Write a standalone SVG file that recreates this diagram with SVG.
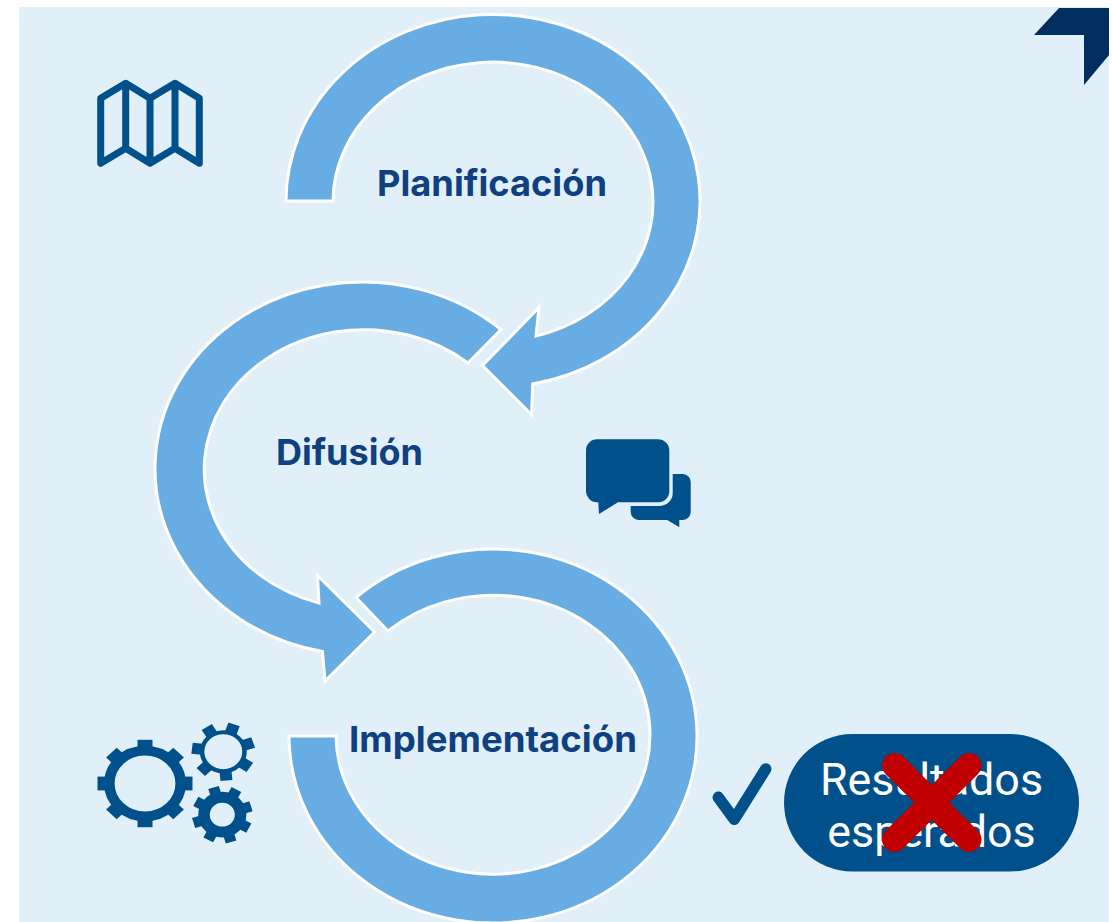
<svg xmlns="http://www.w3.org/2000/svg" width="1112" height="922" viewBox="0 0 1112 922">
<style>
.band{fill:#67ACE2;stroke:#fff;stroke-width:3;stroke-linejoin:miter}
.label{font-family:"Inter","Liberation Sans",sans-serif;font-weight:700;fill:#0F4180;text-anchor:middle;font-size:36px}
.ico{fill:#00508B}
.line{fill:none;stroke:#00508B}
.pilltext{font-family:"Roboto","Liberation Sans",sans-serif;font-size:44.800px;fill:#fff;text-anchor:middle}
</style>
<rect x="19" y="7" width="1090" height="915" fill="#E1EFF9"/>
<polygon id="corner" points="1059,8 1109,8 1109,55 1084,85 1084,35 1034,35" fill="#002F5F"/>
<g id="connectors">
<path class="band" d="M286,201 A207,186.500 0 1 1 532.7,384 L531.5,414.500 L482.500,365.500 L539,307.500 L536,336 A160,139.500 0 1 0 333,201 Z"/>
<path class="band" d="M501,329.600 A207.500,186.500 0 1 0 322.500,651.500 L325,681 L374.500,632 L317.500,575.500 L319,603 A160,139.500 0 1 1 468,363 Z"/>
<path class="band" d="M356,597.500 A204,187 0 1 1 289,736 L336,736 A157,139.500 0 1 0 388,631 Z"/>
</g>
<g id="planificacion"><text class="label" x="492" y="196" textLength="230" lengthAdjust="spacingAndGlyphs">Planificación</text></g>
<g id="difusion"><text class="label" x="349.500" y="465" textLength="147" lengthAdjust="spacingAndGlyphs">Difusión</text></g>
<g id="implementacion"><text class="label" x="493" y="752" textLength="288" lengthAdjust="spacingAndGlyphs">Implementación</text></g>
<g id="map-icon">
<path class="line" stroke-width="7" stroke-linejoin="round" d="M100.700,98.300 L125.700,83.300 L150,98.300 L175,83.300 L199.300,98.300 V163.300 L175,148.300 L150,163.300 L125.700,148.300 L100.700,163.300 Z M125.700,83.300 V148.300 M150,98.300 V163.300 M175,83.300 V148.300"/>
</g>
<g id="chat-icon">
<path class="ico" d="M597,439.300 H658 A11,11 0 0 1 669.300,450.300 V491 A11,11 0 0 1 658,502.300 H618 L599,514 L598.300,502.300 H597 A11,11 0 0 1 586,491 V450.300 A11,11 0 0 1 597,439.300 Z"/>
<path class="ico" d="M672.700,474 H683 A8,8 0 0 1 690.700,482 V512 A8,8 0 0 1 683,520 H679.300 V527.300 L667.300,520 H638.500 A8,8 0 0 1 630.700,512 V506 H660 A13,13 0 0 0 672.700,493 Z"/>
</g>
<g id="gears-icon">
<g transform="translate(145,783.500) scale(1,.92)">
<circle r="35.700" fill="none" stroke="#00508B" stroke-width="10.600"/>
<g class="ico">
<rect x="-7.500" y="-47.500" width="15" height="12"/>
<rect x="-7.500" y="-47.500" width="15" height="12" transform="rotate(45)"/>
<rect x="-7.500" y="-47.500" width="15" height="12" transform="rotate(90)"/>
<rect x="-7.500" y="-47.500" width="15" height="12" transform="rotate(135)"/>
<rect x="-7.500" y="-47.500" width="15" height="12" transform="rotate(180)"/>
<rect x="-7.500" y="-47.500" width="15" height="12" transform="rotate(225)"/>
<rect x="-7.500" y="-47.500" width="15" height="12" transform="rotate(270)"/>
<rect x="-7.500" y="-47.500" width="15" height="12" transform="rotate(315)"/>
</g>
</g>
<g transform="translate(223.300,751.700) scale(1,.92)">
<circle r="21.200" fill="none" stroke="#00508B" stroke-width="4.500"/>
<g class="ico">
<rect x="-6" y="-31.500" width="12" height="10" transform="rotate(20)"/>
<rect x="-6" y="-31.500" width="12" height="10" transform="rotate(71.400)"/>
<rect x="-6" y="-31.500" width="12" height="10" transform="rotate(122.800)"/>
<rect x="-6" y="-31.500" width="12" height="10" transform="rotate(174.200)"/>
<rect x="-6" y="-31.500" width="12" height="10" transform="rotate(225.600)"/>
<rect x="-6" y="-31.500" width="12" height="10" transform="rotate(277)"/>
<rect x="-6" y="-31.500" width="12" height="10" transform="rotate(328.400)"/>
</g>
</g>
<g transform="translate(222.300,814.700) scale(1,.95)">
<circle r="18.300" fill="none" stroke="#00508B" stroke-width="11.500"/>
<g class="ico">
<rect x="-5.500" y="-30" width="11" height="10" transform="rotate(-17)"/>
<rect x="-5.500" y="-30" width="11" height="10" transform="rotate(28)"/>
<rect x="-5.500" y="-30" width="11" height="10" transform="rotate(73)"/>
<rect x="-5.500" y="-30" width="11" height="10" transform="rotate(118)"/>
<rect x="-5.500" y="-30" width="11" height="10" transform="rotate(163)"/>
<rect x="-5.500" y="-30" width="11" height="10" transform="rotate(208)"/>
<rect x="-5.500" y="-30" width="11" height="10" transform="rotate(253)"/>
<rect x="-5.500" y="-30" width="11" height="10" transform="rotate(298)"/>
</g>
</g>
</g>
<g id="check"><path class="line" stroke-width="11.500" stroke-linecap="round" stroke-linejoin="round" d="M718.300,797.300 L734.300,819.300 L765.700,769"/></g>
<g id="resultados">
<rect x="784" y="734" width="295" height="137.500" rx="68.700" fill="#00508B"/>
<text class="pilltext" x="931.500" y="795">Resultados</text>
<text class="pilltext" x="931.500" y="847">esperados</text>
</g>
<g id="cross"><path fill="none" stroke="#C00000" stroke-width="25" stroke-linecap="round" d="M894.500,765.500 L969,839.500 M969,765.500 L894.500,839.500"/></g>
</svg>
